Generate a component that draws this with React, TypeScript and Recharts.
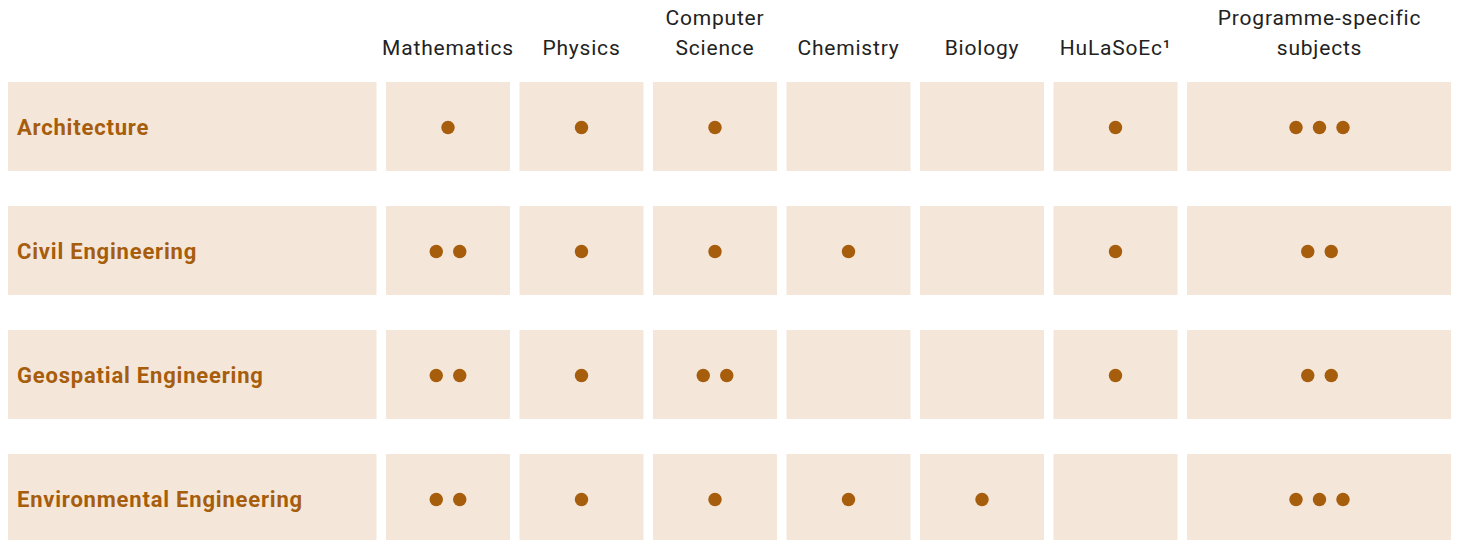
import React from 'react';
import { ScatterChart, Scatter, XAxis, YAxis, ReferenceArea } from 'recharts';

// ---- data ----
const programmes = [
  'Architecture',
  'Civil Engineering',
  'Geospatial Engineering',
  'Environmental Engineering',
];
const subjectLines = [
  ['Mathematics'],
  ['Physics'],
  ['Computer', 'Science'],
  ['Chemistry'],
  ['Biology'],
  ['HuLaSoEc¹'],
  ['Programme-specific', 'subjects'],
];
// number of dots per subject (same order as subjectLines)
const architecture = [1, 1, 1, 0, 0, 1, 3];
const civilEngineering = [2, 1, 1, 1, 0, 1, 2];
const geospatialEngineering = [2, 1, 2, 0, 0, 1, 2];
const environmentalEngineering = [2, 1, 1, 1, 1, 0, 3];
const counts = [architecture, civilEngineering, geospatialEngineering, environmentalEngineering];

// ---- layout ----
const LABEL_W = 368.5;
const CELL_W = 124;
const WIDE_W = 265;
const GAP = 9.5;
const ROW_H = 89;
const ROW_GAP = 35;
const colWidths = subjectLines.map((_, i) => (i === subjectLines.length - 1 ? WIDE_W : CELL_W));
const colStarts: number[] = [];
{
  let s = LABEL_W + GAP;
  colWidths.forEach((w) => {
    colStarts.push(s);
    s += w + GAP;
  });
}
const X_MAX = colStarts[colStarts.length - 1] + colWidths[colWidths.length - 1];
const colCenters = colStarts.map((s, i) => s + colWidths[i] / 2);
const rowStarts = programmes.map((_, i) => i * (ROW_H + ROW_GAP));
const rowCenters = rowStarts.map((s) => s + ROW_H / 2);
const Y_MAX = programmes.length * ROW_H + (programmes.length - 1) * ROW_GAP;

const CELL_FILL = '#F5E6DA';
const BROWN = '#A65D0C';
const FONT = 'Roboto, "DejaVu Sans", sans-serif';

const dotData = programmes
  .flatMap((p, r) => counts[r].map((n, c) => ({ x: colCenters[c], y: rowCenters[r], n })))
  .filter((d) => d.n > 0);

const labelData = programmes.map((p, r) => ({ x: 0, y: rowCenters[r], label: p }));

const DotsShape = (props: any) => {
  const { cx, cy, payload } = props;
  const n = payload.n as number;
  const spacing = 23.5;
  return (
    <g>
      {Array.from({ length: n }).map((_, k) => (
        <circle key={k} cx={cx + (k - (n - 1) / 2) * spacing} cy={cy + 1} r={6.7} fill={BROWN} />
      ))}
    </g>
  );
};

const LabelShape = (props: any) => {
  const { cx, cy, payload } = props;
  return (
    <text
      x={cx + 9}
      y={cy + 1}
      dominantBaseline="central"
      fill={BROWN}
      fontFamily={FONT}
      fontWeight={700}
      fontSize={22}
      letterSpacing={0.8}
    >
      {payload.label}
    </text>
  );
};

const HeaderTick = (props: any) => {
  const { x, y, payload } = props;
  const idx = colCenters.findIndex((c) => Math.abs(c - payload.value) < 0.01);
  const lines = idx >= 0 ? subjectLines[idx] : [];
  const baseline = y - 27.5;
  return (
    <text x={x} textAnchor="middle" fill="#222" fontFamily={FONT} fontSize={21} letterSpacing={0.8}>
      {lines.map((l, i) => (
        <tspan key={i} x={x} y={baseline - (lines.length - 1 - i) * 30}>
          {l}
        </tspan>
      ))}
    </text>
  );
};

export default function App() {
  return (
    <div style={{ marginTop: -8 }}>
      <ScatterChart width={1451} height={548} margin={{ top: 8, right: 7, bottom: 5, left: 0 }}>
        <XAxis
          type="number"
          dataKey="x"
          domain={[0, X_MAX]}
          ticks={colCenters}
          interval={0}
          orientation="top"
          height={74}
          axisLine={false}
          tickLine={false}
          tickSize={0}
          tickMargin={0}
          tick={<HeaderTick />}
          allowDataOverflow
        />
        <YAxis type="number" dataKey="y" domain={[0, Y_MAX]} reversed hide allowDataOverflow />
        {rowStarts.map((rs, r) => (
          <ReferenceArea key={'l' + r} x1={0} x2={LABEL_W} y1={rs} y2={rs + ROW_H} fill={CELL_FILL} fillOpacity={1} stroke="none" />
        ))}
        {rowStarts.flatMap((rs, r) =>
          colStarts.map((cs, c) => (
            <ReferenceArea
              key={r + '-' + c}
              x1={cs}
              x2={cs + colWidths[c]}
              y1={rs}
              y2={rs + ROW_H}
              fill={CELL_FILL}
              fillOpacity={1}
              stroke="none"
            />
          ))
        )}
        <Scatter data={labelData} shape={<LabelShape />} isAnimationActive={false} />
        <Scatter data={dotData} shape={<DotsShape />} isAnimationActive={false} />
      </ScatterChart>
    </div>
  );
}
